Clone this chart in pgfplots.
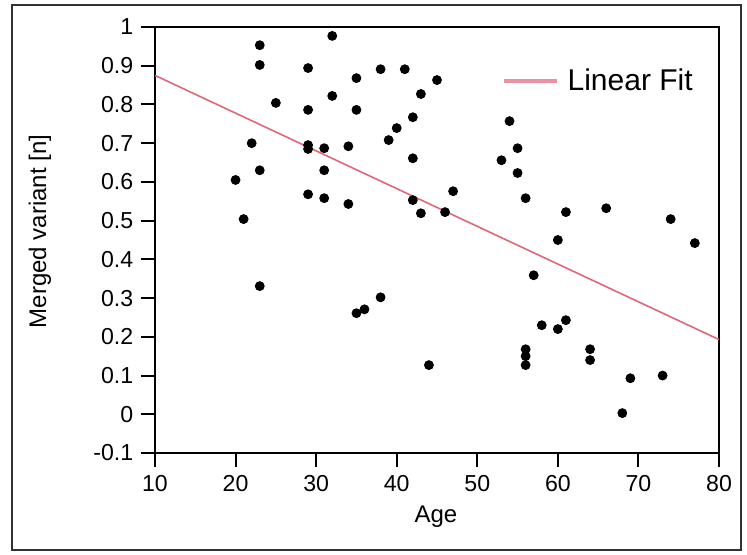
\documentclass[border=0pt]{standalone}
\usepackage{pgfplots}
\pgfplotsset{compat=1.18}
\usepackage{fontspec}
\setmainfont{Liberation Sans}
\definecolor{fitred}{RGB}{226,98,118}
\definecolor{framegray}{RGB}{50,50,50}
\begin{document}
\begin{tikzpicture}
\path[use as bounding box] (-69.75pt,-45.45pt) rectangle (266.4pt,203.85pt);
\draw[framegray, line width=1pt] (-64.35pt,-43.65pt) rectangle (263.7pt,201.6pt);
\begin{axis}[
  at={(0pt,0pt)}, anchor=south west,
  scale only axis,
  width=253.8pt, height=191.7pt,
  xmin=10, xmax=80, ymin=-0.1, ymax=1,
  xtick={10,20,...,80},
  ytick={-0.1,0,0.1,0.2,0.3,0.4,0.5,0.6,0.7,0.8,0.9,1},
  yticklabels={-0.1,0,0.1,0.2,0.3,0.4,0.5,0.6,0.7,0.8,0.9,1},
  tick align=outside,
  xtick pos=bottom, ytick pos=left,
  major tick length=6.3pt,
  axis line style={line width=0.9pt},
  every tick/.style={black, line width=0.9pt},
  /pgf/number format/assume math mode=true,
  tick label style={font=\fontsize{10.4}{12}\selectfont},
  xlabel={Age},
  ylabel={Merged variant [n]},
  label style={font=\fontsize{10.8}{12}\selectfont},
  xlabel style={at={(axis description cs:0.498,-0.150)}, anchor=center},
  ylabel style={at={(axis description cs:-0.204,0.52)}, anchor=center},
  legend style={at={(axis description cs:0.962,0.873)}, anchor=east, draw=none, fill=none,
    font=\fontsize{13.5}{15}\selectfont, inner sep=0pt},
  legend cell align=left,
]
\addplot[only marks, mark=*, mark size=2pt, black, forget plot] coordinates {
(20,0.605) (21,0.504) (22,0.70) (23,0.953) (23,0.902) (23,0.63) (23,0.331)
(25,0.804) (29,0.894) (29,0.786) (29,0.695) (29,0.685) (29,0.568)
(31,0.687) (31,0.63) (31,0.558) (32,0.977) (32,0.822) (34,0.692) (34,0.543)
(35,0.868) (35,0.786) (35,0.261) (36,0.271) (38,0.891) (38,0.302)
(39,0.708) (40,0.739) (41,0.891) (42,0.767) (42,0.661) (42,0.553)
(43,0.827) (43,0.519) (44,0.127) (45,0.863) (46,0.522) (47,0.576)
(53,0.656) (54,0.757) (55,0.687) (55,0.623) (56,0.558) (56,0.168) (56,0.15) (56,0.127)
(57,0.359) (58,0.23) (60,0.45) (60,0.22) (61,0.522) (61,0.243)
(64,0.168) (64,0.14) (66,0.532) (68,0.003) (69,0.093) (73,0.1) (74,0.504) (77,0.442)
};
\addplot[fitred, line width=0.7pt,
  legend image code/.code={\draw[fitred!70, line width=1.6pt] (0pt,0pt) -- (24pt,0pt);}]
  coordinates {(10,0.875) (80,0.193)};
\addlegendentry{\hspace{2pt}Linear Fit}
\end{axis}
\end{tikzpicture}
\end{document}
